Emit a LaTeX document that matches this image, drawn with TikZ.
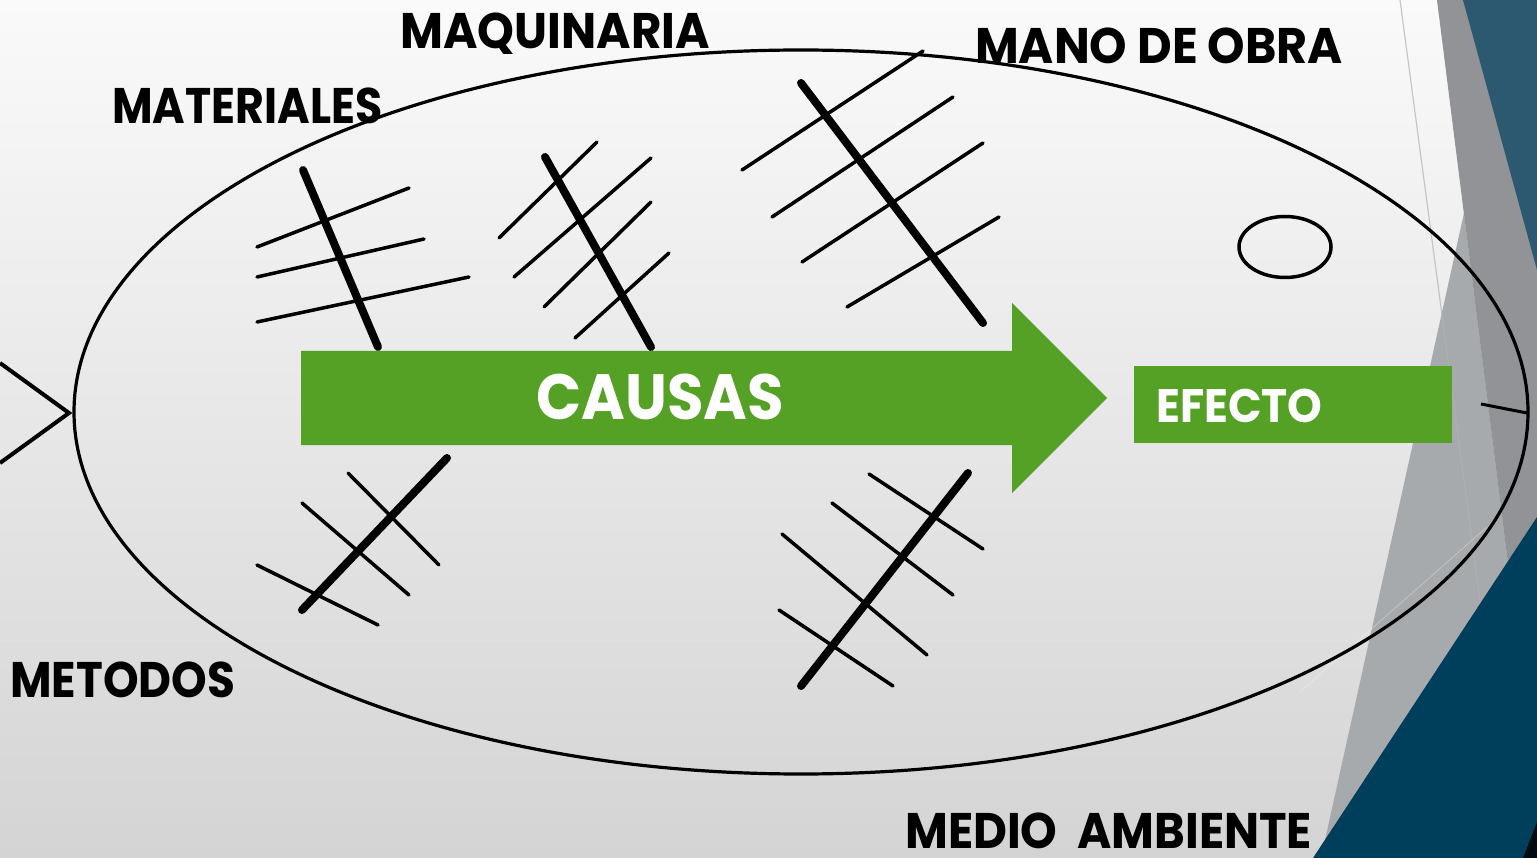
\documentclass[tikz,border=0pt]{standalone}
\usepackage{fontspec}
\usetikzlibrary{shapes.geometric}
\newfontfamily\pop{Poppins}
\definecolor{fishgreen}{HTML}{55A125}
\definecolor{topblue}{HTML}{2C5870}
\definecolor{botblue}{HTML}{003F5C}
\definecolor{midgray}{HTML}{919396}
\definecolor{litgray}{HTML}{A7AAAD}
\definecolor{bgtop}{HTML}{FAFAFA}
\definecolor{bgbot}{HTML}{D4D4D4}
\newcommand{\sx}[2]{\scalebox{#1}[1]{#2}}
\begin{document}
\begin{tikzpicture}[x=1pt,y=-1pt,
  thinbone/.style={line width=3.5pt, line cap=round},
  thickbone/.style={line width=8pt, line cap=round},
  lbl/.style={font=\pop\bfseries\fontsize{50}{50}\selectfont, anchor=base west, inner sep=0pt, text depth=0pt, text=black},
  wlbl/.style={font=\pop\bfseries\fontsize{#1}{#1}\selectfont, anchor=base, inner sep=0pt, text depth=0pt, text=white}]
\useasboundingbox (0,0) rectangle (1537,858);
% background
\fill[top color=bgtop, bottom color=bgbot] (0,0) rectangle (1537,858);
% right decoration
\fill[litgray] (1464,213) -- (1545,858) -- (1321,858) -- cycle;
\fill[midgray] (1437,0) -- (1537,0) -- (1537,794) -- cycle;
\fill[topblue] (1463,0) -- (1537,0) -- (1537,270) -- cycle;
\draw[gray!60, line width=1.2pt, opacity=0.7] (1400,0) -- (1480,600);
\draw[white, line width=1pt, opacity=0.25] (1300,692) -- (1487,527);
\fill[botblue] (1537,517) -- (1537,858) -- (1313,858) -- cycle;
\fill[black!80!botblue] (1537,822) -- (1537,858) -- (1523,858) -- cycle;
% body
\node[draw, line width=3.2pt, ellipse, minimum width=1454, minimum height=724, inner sep=0pt] (body) at (801,412) {};
\coordinate (tailtip) at (69,413);
\coordinate (tailup) at (0,363);
\coordinate (taildown) at (0,463);
\draw[line width=4pt] (tailup) -- (tailtip) -- (taildown);
\node[draw, line width=3.5pt, ellipse, minimum width=92, minimum height=61, inner sep=0pt] (eye) at (1285,247) {};
\coordinate (mouthA) at (1481,404);
\coordinate (mouthB) at (1527,413);
\draw[line width=3pt] (mouthA) -- (mouthB);
% arrow
\fill[fishgreen] (301,351) -- (1012,351) -- (1012,303) -- (1107,398) -- (1012,493) -- (1012,445) -- (301,445) -- cycle;
\node[wlbl=64] (causas) at (660,420) {\sx{0.928}{CAUSAS}};
\fill[fishgreen] (1134,366) rectangle (1452,443);
\node[wlbl=47, anchor=base west] (efecto) at (1156,423) {\sx{0.94}{EFECTO}};
% labels
\node[lbl] (maq) at (400,49) {\sx{0.936}{MAQUINARIA}};
\node[lbl] (mano) at (975,64) {\sx{0.953}{MANO DE OBRA}};
\node[lbl] (mat) at (112,124) {\sx{0.885}{MATERIALES}};
\node[lbl] (met) at (10,697) {\sx{0.906}{METODOS}};
\node[lbl] (medio) at (905,848) {\sx{0.933}{MEDIO\ \ AMBIENTE}};
% bones: materiales
\draw[thickbone] (303,170) -- (378,347);
\draw[thinbone] (257,247) -- (409,188);
\draw[thinbone] (257,277) -- (424,239);
\draw[thinbone] (257,322) -- (469,277);
% maquinaria
\draw[thickbone] (545,157) -- (651,347);
\draw[thinbone] (499,238) -- (597,142);
\draw[thinbone] (514,277) -- (651,158);
\draw[thinbone] (544,307) -- (651,202);
\draw[thinbone] (575,338) -- (669,253);
% mano de obra
\draw[thickbone] (801,83) -- (983,323);
\draw[thinbone] (742,170) -- (923,51);
\draw[thinbone] (772,217) -- (953,97);
\draw[thinbone] (802,262) -- (983,143);
\draw[thinbone] (847,307) -- (999,217);
% metodos
\draw[thickbone] (302,610) -- (447,458);
\draw[thinbone] (257,565) -- (378,625);
\draw[thinbone] (302,503) -- (409,595);
\draw[thinbone] (348,473) -- (439,565);
% medio ambiente
\draw[thickbone] (801,686) -- (968,473);
\draw[thinbone] (779,610) -- (893,686);
\draw[thinbone] (782,534) -- (927,655);
\draw[thinbone] (832,503) -- (953,595);
\draw[thinbone] (869,474) -- (983,549);
\end{tikzpicture}
\end{document}
